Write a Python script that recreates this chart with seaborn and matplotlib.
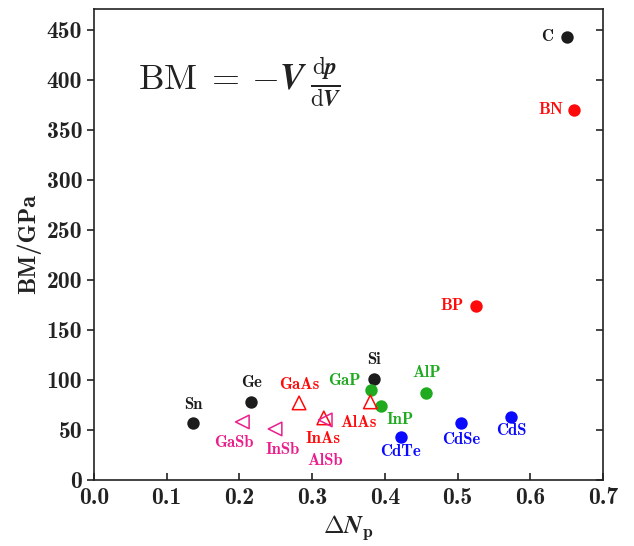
import seaborn as sns
import pandas as pd
import numpy as np
import matplotlib.pyplot as plt

# bulk modulus vs delta N_p for a set of semiconductors
names_elem = ["C", "Si", "Ge", "Sn"]
dnp_elem = [0.650, 0.385, 0.216, 0.136]
bm_elem = [443, 101, 78, 57]

names_bn = ["BN", "BP"]
dnp_bn = [0.660, 0.525]
bm_bn = [370, 174]

names_p = ["GaP", "InP", "AlP"]
dnp_p = [0.381, 0.395, 0.457]
bm_p = [90, 74, 87]

names_cd = ["CdTe", "CdSe", "CdS"]
dnp_cd = [0.422, 0.505, 0.574]
bm_cd = [43, 57, 63]

names_as = ["GaAs", "AlAs", "InAs"]
dnp_as = [0.282, 0.380, 0.316]
bm_as = [77, 78, 62]

names_sb = ["GaSb", "InSb", "AlSb"]
dnp_sb = [0.204, 0.249, 0.318]
bm_sb = [58, 51, 60]

# label offsets in pixels
offsets = {
    "C": (-20, 0), "Si": (0, 19), "Ge": (0, 19), "Sn": (0, 18),
    "BN": (-23, 0), "BP": (-24, 0),
    "GaP": (-27, 9), "InP": (19, -14), "AlP": (0, 20),
    "CdTe": (0, -15), "CdSe": (0, -17), "CdS": (0, -14),
    "GaAs": (0, 18), "AlAs": (-12, -21), "InAs": (-1, -21),
    "GaSb": (-8, -21), "InSb": (8, -21), "AlSb": (0, -41),
}

sns.set_style("ticks")
plt.rcParams['font.family'] = 'cmb10'
plt.rcParams['mathtext.fontset'] = 'cm'
plt.rcParams['axes.unicode_minus'] = False

fig = plt.figure(figsize=(6.34, 5.46), dpi=100)
ax = fig.add_axes([0.1483, 0.1209, 0.8028, 0.8635])

c_black = '#1c1c1c'
c_red = '#ff0a0a'
c_green = '#1faa1f'
c_blue = '#0a0aff'
c_mag = '#ea1e8c'

groups = [
    (names_elem, dnp_elem, bm_elem, c_black, 'o', True),
    (names_bn, dnp_bn, bm_bn, c_red, 'o', True),
    (names_p, dnp_p, bm_p, c_green, 'o', True),
    (names_cd, dnp_cd, bm_cd, c_blue, 'o', True),
    (names_as, dnp_as, bm_as, c_red, '^', False),
    (names_sb, dnp_sb, bm_sb, c_mag, '<', False),
]

for names, xs, ys, col, mk, filled in groups:
    df = pd.DataFrame({"x": xs, "y": ys})
    if filled:
        sns.scatterplot(data=df, x="x", y="y", ax=ax, marker=mk, s=80,
                        color=col, edgecolor=col, linewidth=0, zorder=3)
    else:
        sns.scatterplot(data=df, x="x", y="y", ax=ax, marker=mk, s=95,
                        facecolor='none', edgecolor=col, linewidth=1.1, zorder=3)
    for n, xv, yv in zip(names, xs, ys):
        dx, dy = offsets[n]
        ax.annotate(n, (xv, yv), xytext=(dx, dy), textcoords='offset pixels',
                    ha='center', va='center', color=col, fontsize=12)

# formula: left part and the fraction drawn as two texts
ax.text(0.087, 0.8275, r'$\mathrm{BM}\;=\,{-}\mathbfit{V}$',
        transform=ax.transAxes, fontsize=26, color='#222222', va='baseline', ha='left')
ax.text(0.425, 0.846, r'$\frac{\mathrm{d}\mathbfit{p}}{\mathrm{d}\mathbfit{V}}$',
        transform=ax.transAxes, fontsize=24, color='#222222', va='center', ha='left')

ax.set_xlim(0, 0.7)
ax.set_ylim(0, 471)
ax.set_xticks(np.arange(0, 0.71, 0.1))
ax.set_xticklabels([f"{v:.1f}" for v in np.arange(0, 0.71, 0.1)])
ax.set_yticks(np.arange(0, 451, 50))
ax.tick_params(axis='x', direction='in', length=5, width=1.2, labelsize=17, colors='#222222', pad=5)
ax.tick_params(axis='y', direction='out', length=5, width=1.2, labelsize=17, colors='#222222')
sec = ax.secondary_yaxis('right')
sec.set_yticks(np.arange(0, 451, 50))
sec.tick_params(direction='in', length=5, width=1.2, labelright=False)
sec.spines['right'].set_visible(False)

ax.set_xlabel(r'$\boldsymbol{\Delta N}_{\mathbf{p}}$', fontsize=18, color='#222222', labelpad=3)
ax.set_ylabel('BM/GPa', fontsize=17.5, color='#222222', labelpad=4)

for sp in ax.spines.values():
    sp.set_visible(True)
    sp.set_linewidth(1.2)
    sp.set_color('#222222')

fig.savefig("out.png", dpi=100)
